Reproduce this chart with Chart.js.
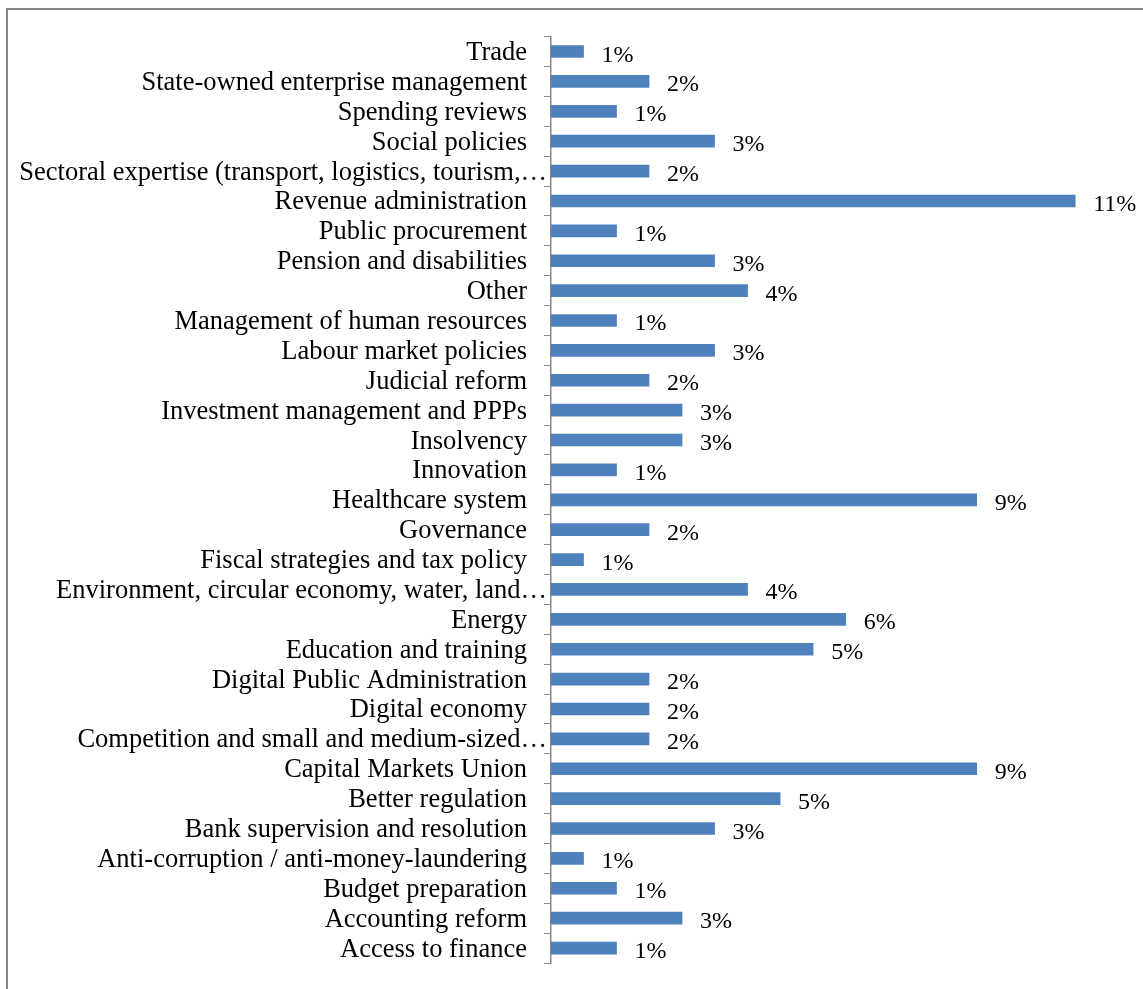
<!DOCTYPE html>
<html>
<head>
<meta charset="utf-8">
<script src="https://cdn.jsdelivr.net/npm/chart.js@4"></script>
<style>
  html, body { margin: 0; padding: 0; background: #fff; }
  canvas { display: block; }
</style>
</head>
<body>
<canvas id="chart" width="1143" height="989"></canvas>
<script>
const categories = [
  'Trade',
  'State-owned enterprise management',
  'Spending reviews',
  'Social policies',
  'Sectoral expertise (transport, logistics, tourism,…',
  'Revenue administration',
  'Public procurement',
  'Pension and disabilities',
  'Other',
  'Management of human resources',
  'Labour market policies',
  'Judicial reform',
  'Investment management and PPPs',
  'Insolvency',
  'Innovation',
  'Healthcare system',
  'Governance',
  'Fiscal strategies and tax policy',
  'Environment, circular economy, water, land…',
  'Energy',
  'Education and training',
  'Digital Public Administration',
  'Digital economy',
  'Competition and small and medium-sized…',
  'Capital Markets Union',
  'Better regulation',
  'Bank supervision and resolution',
  'Anti-corruption / anti-money-laundering',
  'Budget preparation',
  'Accounting reform',
  'Access to finance',
];

// share of requests, in percent
const shares = [
  0.68, 2.05, 1.37, 3.42, 2.05, 10.96, 1.37, 3.42, 4.11, 1.37,
  3.42, 2.05, 2.74, 2.74, 1.37, 8.90, 2.05, 0.68, 4.11, 6.16,
  5.48, 2.05, 2.05, 2.05, 8.90, 4.79, 3.42, 0.68, 1.37, 2.74,
  1.37,
];

const FONT = "'Liberation Serif', 'Times New Roman', serif";
const BAR = '#4F81BD';
const LINE = '#878787';

// outer frame of the chart object
const framePlugin = {
  id: 'frame',
  beforeDraw(chart) {
    const { ctx } = chart;
    ctx.save();
    ctx.fillStyle = '#fff';
    ctx.fillRect(0, 0, chart.width, chart.height);
    ctx.strokeStyle = LINE;
    ctx.lineWidth = 2;
    ctx.strokeRect(7, 9, chart.width + 20, chart.height + 20);
    ctx.restore();
  },
};

// category names, long ones sit closer to the axis like the original
const labelPlugin = {
  id: 'catLabels',
  afterDraw(chart) {
    const { ctx } = chart;
    const y = chart.scales.y;
    ctx.save();
    ctx.font = `26.5px ${FONT}`;
    ctx.fillStyle = '#000';
    ctx.textAlign = 'right';
    ctx.textBaseline = 'alphabetic';
    categories.forEach((c, i) => {
      const x = c.endsWith('…') ? 547 : 527;
      ctx.fillText(c, x, y.getPixelForValue(i) + 8.5);
    });
    ctx.restore();
  },
};

const valuePlugin = {
  id: 'valueLabels',
  afterDatasetsDraw(chart) {
    const { ctx } = chart;
    const meta = chart.getDatasetMeta(0);
    ctx.save();
    ctx.font = `24px ${FONT}`;
    ctx.fillStyle = '#000';
    ctx.textAlign = 'left';
    ctx.textBaseline = 'alphabetic';
    meta.data.forEach((bar, i) => {
      ctx.fillText(Math.round(shares[i]) + '%', bar.x + 18, bar.y + 10);
    });
    ctx.restore();
  },
};

new Chart(document.getElementById('chart'), {
  type: 'bar',
  data: {
    labels: categories,
    datasets: [{
      data: shares,
      backgroundColor: BAR,
      borderWidth: 0,
      barThickness: 12,
    }],
  },
  options: {
    indexAxis: 'y',
    responsive: false,
    devicePixelRatio: 1,
    animation: false,
    layout: { padding: { top: 36.6, bottom: 26, left: 0, right: 18 } },
    plugins: {
      legend: { display: false },
      tooltip: { enabled: false },
    },
    scales: {
      x: { display: false, min: 0, max: 12 },
      y: {
        afterFit: (s) => { s.width = 551; },
        grid: { drawOnChartArea: false, drawTicks: true, tickLength: 7, color: LINE, offset: true },
        border: { display: true, color: LINE, width: 1.5 },
        ticks: { autoSkip: false, color: 'rgba(0,0,0,0)', font: { size: 10 } },
      },
    },
  },
  plugins: [framePlugin, labelPlugin, valuePlugin],
});
</script>
</body>
</html>
